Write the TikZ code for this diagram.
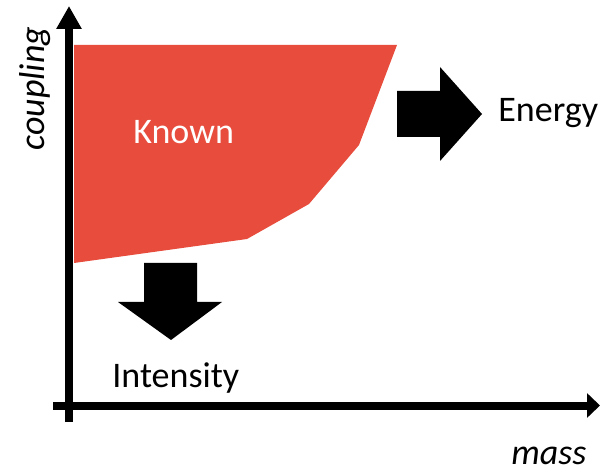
\documentclass[tikz,border=0pt]{standalone}
\usepackage{fontspec}
\setmainfont{Carlito}
\usetikzlibrary{arrows.meta}
\definecolor{known}{HTML}{E74C3C}

\begin{document}
\begin{tikzpicture}[x=0.5pt, y=-0.5pt, every node/.style={font=\fontsize{18}{21}\selectfont, inner sep=0pt}]
    \useasboundingbox (0,0) rectangle (600,470);
    % axes
    \coordinate (ybot) at (69,422);
    \coordinate (ytop) at (69,6);
    \coordinate (xleft) at (53,405.5);
    \coordinate (xright) at (600,405.5);
    \draw[line width=4pt, -{Triangle[length=11.5pt, width=12pt]}] (ybot) -- (ytop);
    \draw[line width=4pt, -{Triangle[length=6.5pt, width=12pt]}] (xleft) -- (xright);
    \node[rotate=90, anchor=base west, font=\fontsize{18}{21}\selectfont\itshape] (coupling) at (44,151) {coupling};
    \node[anchor=base west, text depth=0pt, font=\fontsize{18}{21}\selectfont\itshape] (mass) at (511,464) {mass};
    % known region
    \fill[known] (74,45) -- (397,45) -- (359,145) -- (309,204) -- (247,239) -- (74,263) -- cycle;
    \node[anchor=base west, text=white] (known) at (133,144) {Known};
    % block arrows
    \fill (397,91) -- (440,91) -- (440,67) -- (482,114) -- (440,161) -- (440,137) -- (397,137) -- cycle;
    \node[anchor=base west] (energy) at (498,122) {Energy};
    \fill (144,263) -- (197,263) -- (197,302) -- (222,302) -- (171,340) -- (118,302) -- (144,302) -- cycle;
    \node[anchor=base west] (intensity) at (112,387) {Intensity};
\end{tikzpicture}
\end{document}
